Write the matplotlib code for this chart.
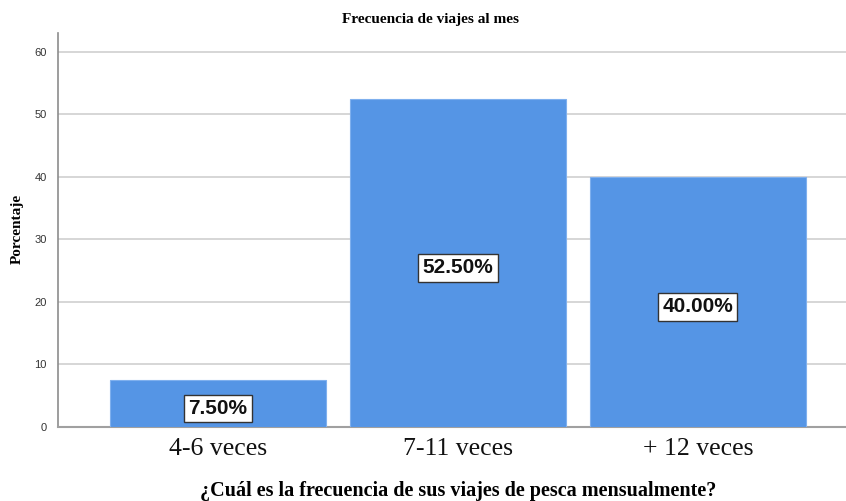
import matplotlib
matplotlib.use("Agg")
import matplotlib.pyplot as plt
import numpy as np

# survey answers: monthly fishing trips
categories = ["4-6 veces", "7-11 veces", "+ 12 veces"]
percentages = [7.5, 52.5, 40.0]
y_ticks = [0, 10, 20, 30, 40, 50, 60]

bar_color = "#5595e5"
serif = ["Liberation Serif", "DejaVu Serif"]
sans = ["Liberation Sans", "DejaVu Sans"]

fig = plt.figure(figsize=(8.46, 5.01), dpi=100)
ax = fig.add_axes([58 / 846, 74 / 501, 788 / 846, 394 / 501])

x = np.arange(len(categories))
bars = ax.bar(x, percentages, width=0.9, color=bar_color,
              edgecolor="#7fb0ee", linewidth=0.8, zorder=3)

for b, v in zip(bars, percentages):
    ax.text(b.get_x() + b.get_width() / 2, v / 2 - 0.8, f"{v:.2f}%",
            ha="center", va="center", fontsize=15, fontweight="bold",
            family=sans, color="#111111", zorder=4,
            bbox=dict(boxstyle="square,pad=0.2", facecolor="white",
                      edgecolor="#333333", linewidth=1))

ax.set_xlim(-0.667, 2.617)
ax.set_ylim(0, 63)
ax.set_yticks(y_ticks)
ax.set_xticks(x)
ax.set_xticklabels(categories, family=serif, fontsize=18.5, color="#111111")
ax.tick_params(axis="x", length=0, pad=8)
ax.tick_params(axis="y", length=0, pad=8, labelsize=8, labelcolor="#333333")
for lbl in ax.get_yticklabels():
    lbl.set_family(sans)

ax.yaxis.grid(True, color="#d6d6d6", linewidth=1.4, zorder=0)
ax.set_axisbelow(True)
for side in ["top", "right"]:
    ax.spines[side].set_visible(False)
ax.spines["left"].set_color("#8c8c8c")
ax.spines["bottom"].set_color("#a0a0a0")
ax.spines["left"].set_linewidth(1.2)
ax.spines["bottom"].set_linewidth(1.5)

fig.text(430 / 846, 1 - 19 / 501, "Frecuencia de viajes al mes", ha="center",
         va="center", fontsize=11, fontweight="bold", family=serif)
fig.text(458 / 846, 1 - 491 / 501,
         "¿Cuál es la frecuencia de sus viajes de pesca mensualmente?",
         ha="center", va="center", fontsize=14.5, fontweight="bold", family=serif)
fig.text(17 / 846, 1 - 229 / 501, "Porcentaje", rotation=90, ha="center",
         va="center", fontsize=11, fontweight="bold", family=serif)

fig.savefig("out.png", dpi=100)
